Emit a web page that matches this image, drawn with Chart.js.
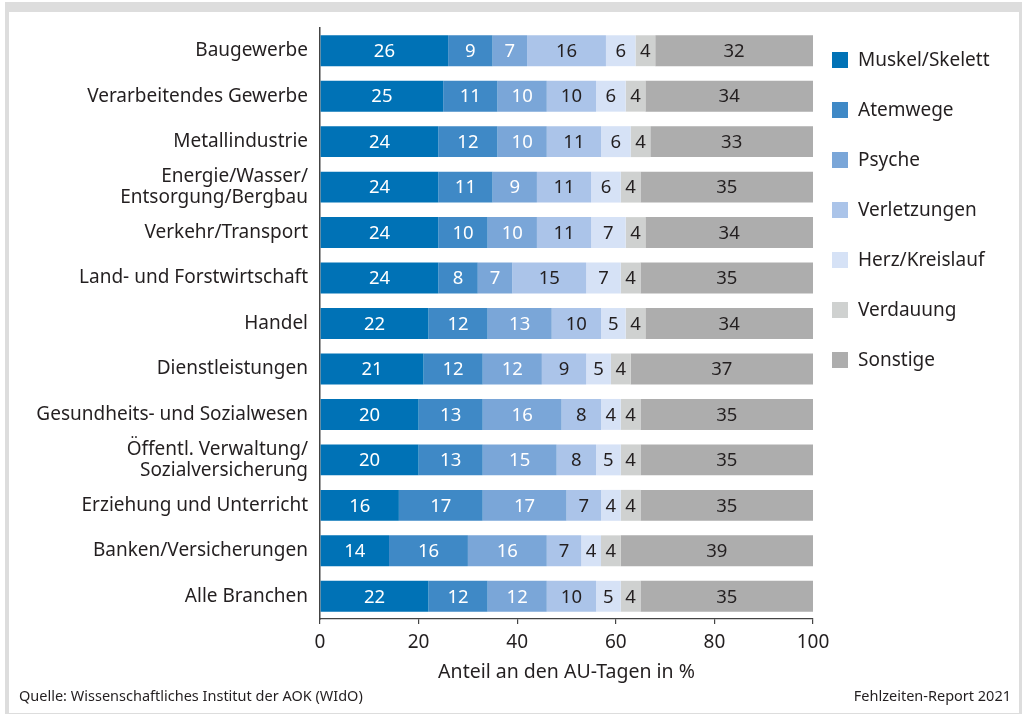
<!DOCTYPE html>
<html>
<head>
<meta charset="utf-8">
<script src="https://cdn.jsdelivr.net/npm/chart.js@4"></script>
<style>
  html, body { margin: 0; padding: 0; background: #fff; }
  .frame { position: absolute; left: 5px; top: 2px; width: 1017px; height: 712px; background: #dddddd; }
  .inner { position: absolute; left: 9px; top: 12px; width: 1010px; height: 701px; background: #fff; }
  #wrap { position: absolute; left: 0; top: 0; width: 1022px; height: 714px; }
</style>
</head>
<body>
<div class="frame"></div>
<div class="inner"></div>
<div id="wrap"><canvas id="chart" width="1022" height="714"></canvas></div>
<script>
// categories (top to bottom)
const branchen = [
  "Baugewerbe",
  "Verarbeitendes Gewerbe",
  "Metallindustrie",
  ["Energie/Wasser/", "Entsorgung/Bergbau"],
  "Verkehr/Transport",
  "Land- und Forstwirtschaft",
  "Handel",
  "Dienstleistungen",
  "Gesundheits- und Sozialwesen",
  ["Öffentl. Verwaltung/", "Sozialversicherung"],
  "Erziehung und Unterricht",
  "Banken/Versicherungen",
  "Alle Branchen"
];

const muskelSkelett = [26, 25, 24, 24, 24, 24, 22, 21, 20, 20, 16, 14, 22];
const atemwege      = [ 9, 11, 12, 11, 10,  8, 12, 12, 13, 13, 17, 16, 12];
const psyche        = [ 7, 10, 10,  9, 10,  7, 13, 12, 16, 15, 17, 16, 12];
const verletzungen  = [16, 10, 11, 11, 11, 15, 10,  9,  8,  8,  7,  7, 10];
const herzKreislauf = [ 6,  6,  6,  6,  7,  7,  5,  5,  4,  5,  4,  4,  5];
const verdauung     = [ 4,  4,  4,  4,  4,  4,  4,  4,  4,  4,  4,  4,  4];
const sonstige      = [32, 34, 33, 35, 34, 35, 34, 37, 35, 35, 35, 39, 35];

const xTicks = [0, 20, 40, 60, 80, 100];

const textColor = '#231f20';
const fontName = "'Noto Sans', 'Open Sans', sans-serif";

// values written into each bar segment
const segmentLabels = {
  id: 'segmentLabels',
  afterDatasetsDraw(chart) {
    const ctx = chart.ctx;
    ctx.save();
    ctx.font = '18.5px ' + fontName;
    ctx.textAlign = 'center';
    ctx.textBaseline = 'middle';
    chart.data.datasets.forEach((ds, i) => {
      const meta = chart.getDatasetMeta(i);
      meta.data.forEach((bar, j) => {
        const x = (bar.x + bar.base) / 2;
        ctx.fillStyle = i < 3 ? '#ffffff' : textColor;
        ctx.fillText(ds.data[j], x, bar.y + 1);
      });
    });
    ctx.restore();
  }
};

// legend on the right + source lines at the bottom
const sideLegend = {
  id: 'sideLegend',
  afterDraw(chart) {
    const ctx = chart.ctx;
    ctx.save();
    ctx.font = '19px ' + fontName;
    ctx.textBaseline = 'middle';
    ctx.textAlign = 'left';
    chart.data.datasets.forEach((ds, i) => {
      const y = 60 + i * 50;
      ctx.fillStyle = ds.backgroundColor;
      ctx.fillRect(832, y - 8, 16, 16);
      ctx.fillStyle = textColor;
      ctx.fillText(ds.label, 858, y + 1);
    });

    ctx.font = '14.5px ' + fontName;
    ctx.fillText('Quelle: Wissenschaftliches Institut der AOK (WIdO)', 19, 697);
    ctx.textAlign = 'right';
    ctx.fillText('Fehlzeiten-Report 2021', 1011, 697);
    ctx.restore();
  }
};

new Chart(document.getElementById('chart'), {
  type: 'bar',
  data: {
    labels: branchen,
    datasets: [
      { label: 'Muskel/Skelett', data: muskelSkelett, backgroundColor: '#0072b6' },
      { label: 'Atemwege', data: atemwege, backgroundColor: '#3f89c6' },
      { label: 'Psyche', data: psyche, backgroundColor: '#7aa6d8' },
      { label: 'Verletzungen', data: verletzungen, backgroundColor: '#abc4e9' },
      { label: 'Herz/Kreislauf', data: herzKreislauf, backgroundColor: '#d6e2f6' },
      { label: 'Verdauung', data: verdauung, backgroundColor: '#cfd1d0' },
      { label: 'Sonstige', data: sonstige, backgroundColor: '#adadad' }
    ]
  },
  options: {
    indexAxis: 'y',
    responsive: false,
    animation: false,
    events: [],
    barPercentage: 0.68,
    categoryPercentage: 1,
    layout: { padding: { top: 28, right: 209, bottom: 0, left: 0 } },
    plugins: {
      legend: { display: false },
      tooltip: { enabled: false }
    },
    scales: {
      x: {
        stacked: true,
        min: 0,
        max: 100,
        afterBuildTicks(scale) { scale.ticks = xTicks.map(v => ({ value: v })); },
        afterFit(scale) { scale.height = 95; },
        grid: { drawOnChartArea: false, drawTicks: true, tickLength: 5, color: '#444', lineWidth: 1.2 },
        border: { display: true, color: '#444', width: 1.2 },
        ticks: { color: textColor, padding: 7, autoSkip: false, maxRotation: 0, font: { family: fontName, size: 19 } },
        title: {
          display: true,
          text: 'Anteil an den AU-Tagen in %',
          color: textColor,
          font: { family: fontName, size: 19.5 },
          padding: { top: 0, bottom: 30 }
        }
      },
      y: {
        stacked: true,
        afterFit(scale) { scale.width = 320; },
        grid: { display: false, drawTicks: false },
        border: { display: true, color: '#444', width: 1.5 },
        ticks: { color: textColor, padding: 12, autoSkip: false, font: { family: fontName, size: 19, lineHeight: 1.12 } }
      }
    }
  },
  plugins: [segmentLabels, sideLegend]
});
</script>
</body>
</html>
